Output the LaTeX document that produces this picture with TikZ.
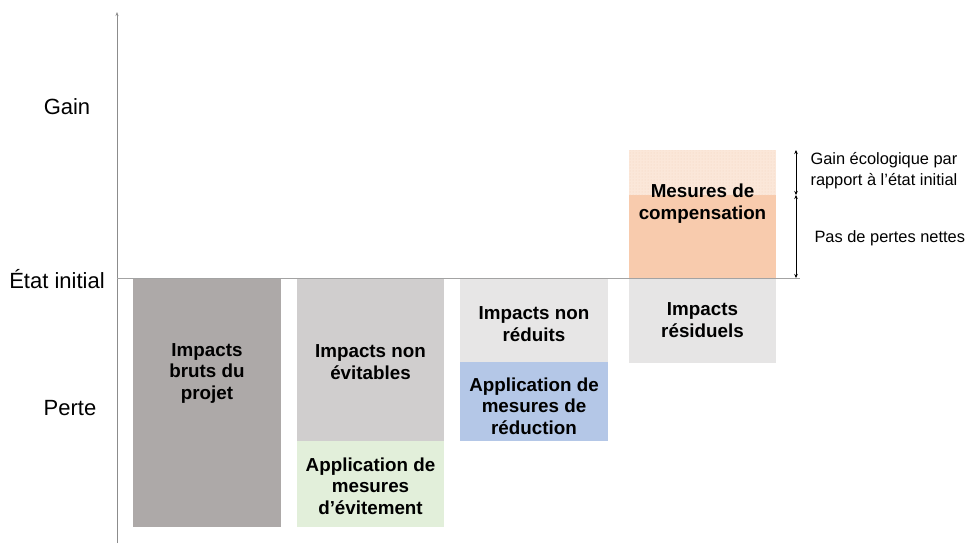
\documentclass[tikz,border=0pt]{standalone}
\usepackage{fontspec}
\setmainfont{Liberation Sans}
\usetikzlibrary{arrows.meta,patterns}
\definecolor{gbrut}{HTML}{ADA9A8}
\definecolor{gnonev}{HTML}{D0CECE}
\definecolor{gevit}{HTML}{E2EFDA}
\definecolor{gnonred}{HTML}{E7E6E6}
\definecolor{gred}{HTML}{B4C7E7}
\definecolor{gres}{HTML}{E6E5E5}
\definecolor{gcomp}{HTML}{F8CBAD}
\definecolor{ggain}{HTML}{FBE7D9}
\definecolor{gdot}{HTML}{F5D3BE}
\definecolor{axisc}{HTML}{8C8C8C}
\begin{document}
\begin{tikzpicture}[x=1pt,y=-1pt,
  box/.style={inner sep=0pt,outer sep=0pt,anchor=north west},
  btxt/.style={font=\fontsize{18.8}{21.5}\selectfont\bfseries,align=center,text=black},
  ltxt/.style={font=\fontsize{22}{26}\selectfont,text=black},
  stxt/.style={font=\fontsize{16.4}{21}\selectfont,align=left,text=black,anchor=west},
  tip/.style={Stealth[length=4pt,width=3.5pt]},
  dim/.style={{Stealth[length=4pt,width=3.5pt]}-{Stealth[length=4pt,width=3.5pt]},line width=0.6pt,black}]
\useasboundingbox (0,0) rectangle (965,543);
% axes
\coordinate (ybot) at (117,543);
\coordinate (ytop) at (117,12);
\coordinate (xl) at (117,278);
\coordinate (xr) at (800,278);
\draw[axisc,line width=0.8pt,-{Stealth[length=4pt,width=3pt]}] (ybot) -- (ytop);
\draw[axisc!80,line width=0.8pt] (xl) -- (xr);
% column 1
\node[box,fill=gbrut,minimum width=148,minimum height=248] (b1) at (133,279) {};
\node[btxt] (t1) at (207,373) {Impacts\\bruts du\\projet};
% column 2
\node[box,fill=gnonev,minimum width=147,minimum height=162] (b2) at (297,279) {};
\node[btxt] (t2) at (370.5,362) {Impacts non\\évitables};
\node[box,fill=gevit,minimum width=147,minimum height=86] (b3) at (297,441) {};
\node[btxt] (t3) at (370.5,486) {Application de\\mesures\\d’évitement};
% column 3
\node[box,fill=gnonred,minimum width=148,minimum height=83] (b4) at (460,279) {};
\node[btxt] (t4) at (534,324) {Impacts non\\réduits};
\node[box,fill=gred,minimum width=148,minimum height=79] (b5) at (460,362) {};
\node[btxt] (t5) at (534,406) {Application de\\mesures de\\réduction};
% column 4
\node[box,fill=gres,minimum width=147,minimum height=84] (b6) at (629,279) {};
\node[btxt] (t6) at (702.5,320) {Impacts\\résiduels};
\node[box,fill=gcomp,minimum width=147,minimum height=83] (b7) at (629,195) {};
\node[box,fill=ggain,minimum width=147,minimum height=45] (b8) at (629,150) {};
\fill[pattern=dots,pattern color=gdot] (b8.north west) rectangle (b8.south east);
\node[btxt] (t7) at (702.5,203.5) {Mesures de\\compensation};
% dimension arrows
\coordinate (d1) at (796,150);
\coordinate (d2) at (796,195);
\coordinate (d3) at (796,278);
\draw[dim] (d1) -- (d2);
\draw[dim] (d2) -- (d3);
\node[stxt] (g1) at (807,171) {Gain écologique par\\rapport à l’état initial};
\node[stxt] (g2) at (811,238) {Pas de pertes nettes};
% axis labels
\node[ltxt] (lg) at (67,107) {Gain};
\node[ltxt] (le) at (57,279) {État initial};
\node[ltxt] (lp) at (70,408) {Perte};
\end{tikzpicture}
\end{document}
